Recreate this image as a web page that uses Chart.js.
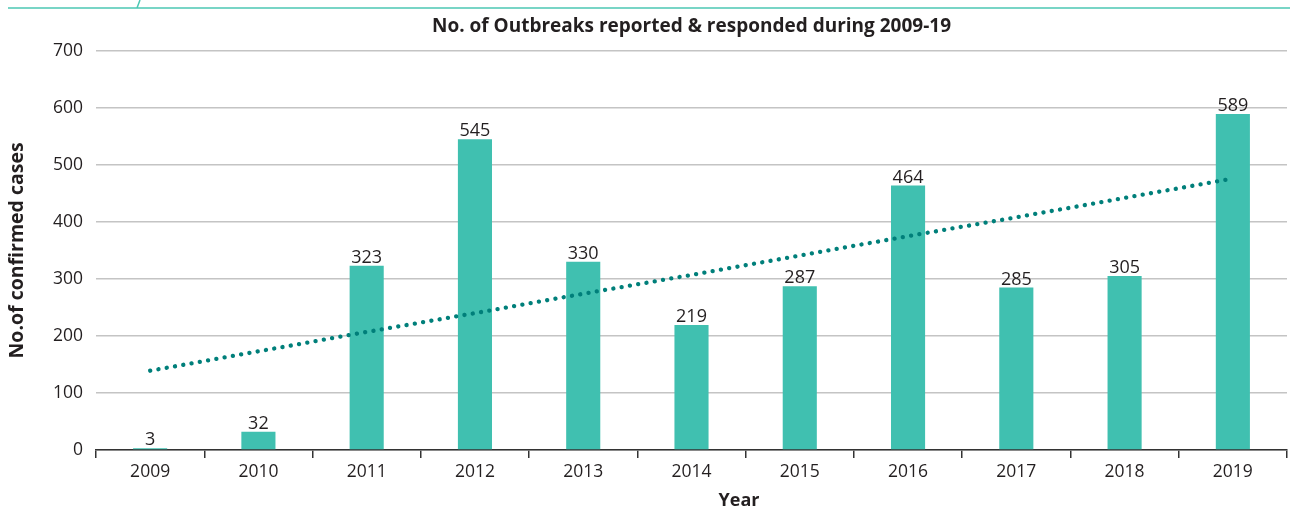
<!DOCTYPE html>
<html>
<head>
<meta charset="utf-8">
<script src="https://cdn.jsdelivr.net/npm/chart.js@4.4.0/dist/chart.umd.min.js"></script>
<style>
  html, body { margin: 0; padding: 0; background: #fff; }
  #wrap { width: 1290px; height: 510px; position: relative; }
</style>
</head>
<body>
<div id="wrap"><canvas id="outbreakChart"></canvas></div>
<script>
// Outbreaks reported & responded, by year
const years = ['2009', '2010', '2011', '2012', '2013', '2014', '2015', '2016', '2017', '2018', '2019'];
const outbreaks = [3, 32, 323, 545, 330, 219, 287, 464, 285, 305, 589];
// linear trend (dotted line)
const trend = [139, 173, 207, 240, 274, 307, 341, 375, 408, 442, 476];
const yTicks = [0, 100, 200, 300, 400, 500, 600, 700];
const chartTitle = 'No. of Outbreaks reported & responded during 2009-19';

const fontFamily = "'Open Sans', 'Noto Sans', sans-serif";
const textColor = '#231f20';

// teal rule across the top of the page
const headerRule = {
    id: 'headerRule',
    beforeDraw(chart) {
        const ctx = chart.ctx;
        ctx.save();
        ctx.strokeStyle = '#4cc7b4';
        ctx.lineWidth = 1.5;
        ctx.beginPath();
        ctx.moveTo(8, 8);
        ctx.lineTo(1290, 8);
        ctx.moveTo(137, 8);
        ctx.lineTo(140, 0);
        ctx.stroke();
        ctx.restore();
    }
};

// value labels above each bar, the heading over the plot area and the "Year" caption
const barValues = {
    id: 'barValues',
    afterDatasetsDraw(chart) {
        const ctx = chart.ctx;
        const area = chart.chartArea;
        const meta = chart.getDatasetMeta(0);
        ctx.save();
        ctx.fillStyle = textColor;
        ctx.font = '18px ' + fontFamily;
        ctx.textAlign = 'center';
        ctx.textBaseline = 'bottom';
        meta.data.forEach((bar, i) => {
            ctx.fillText(String(outbreaks[i]), bar.x, bar.y + 1);
        });
        ctx.textBaseline = 'middle';
        ctx.font = 'bold 19px ' + fontFamily;
        ctx.fillText(chartTitle, (area.left + area.right) / 2, 27);
        ctx.font = 'bold 18px ' + fontFamily;
        ctx.fillText('Year', 739, 501);
        ctx.restore();
    }
};

new Chart(document.getElementById('outbreakChart'), {
    type: 'bar',
    data: {
        labels: years,
        datasets: [{
            label: 'Outbreaks',
            data: outbreaks,
            backgroundColor: '#40c0b0',
            borderWidth: 0,
            categoryPercentage: 1,
            barPercentage: 0.315,
            order: 2
        }, {
            type: 'line',
            label: 'Trend',
            data: trend,
            borderColor: '#007f7a',
            borderWidth: 4.3,
            borderCapStyle: 'round',
            borderDash: [0.1, 8.3],
            pointRadius: 0,
            fill: false,
            order: 1
        }]
    },
    options: {
        responsive: true,
        maintainAspectRatio: false,
        animation: false,
        layout: { padding: { left: 0, right: 3, top: 0, bottom: 0 } },
        plugins: {
            legend: { display: false },
            tooltip: { enabled: false },
            // reserves the space; the heading itself is drawn by barValues
            title: {
                display: true,
                text: chartTitle,
                color: 'rgba(0,0,0,0)',
                font: { family: fontFamily, size: 19, weight: 'bold' },
                padding: { top: 16, bottom: 12 }
            }
        },
        scales: {
            x: {
                offset: true,
                grid: {
                    offset: true,
                    drawOnChartArea: false,
                    color: '#333',
                    lineWidth: 1.5,
                    tickLength: 8
                },
                border: { color: '#333', width: 1.5 },
                ticks: {
                    color: textColor,
                    font: { family: fontFamily, size: 17.5 },
                    padding: 4,
                    maxRotation: 0
                },
                afterFit(scale) { scale.height = 60; }
            },
            y: {
                min: 0,
                max: 700,
                afterBuildTicks(scale) {
                    scale.ticks = yTicks.map(v => ({ value: v }));
                },
                grid: {
                    color: '#c4c4c4',
                    lineWidth: 1.5,
                    drawTicks: false
                },
                border: { display: false },
                ticks: {
                    color: textColor,
                    font: { family: fontFamily, size: 17.5 },
                    padding: 13
                },
                title: {
                    display: true,
                    text: 'No.of confirmed cases',
                    color: textColor,
                    font: { family: fontFamily, size: 19.5, weight: 'bold' },
                    padding: { top: 6, bottom: 0 }
                },
                afterFit(scale) { scale.width = 96; }
            }
        }
    },
    plugins: [headerRule, barValues]
});
</script>
</body>
</html>
